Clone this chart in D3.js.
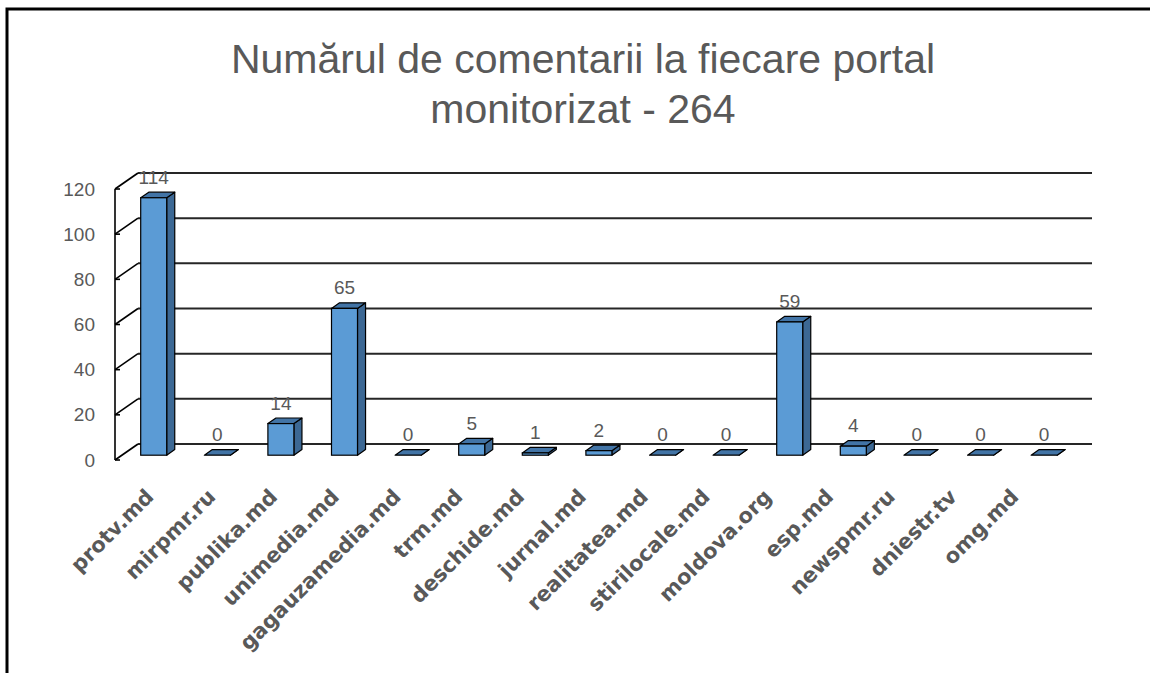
<!DOCTYPE html>
<html>
<head>
<meta charset="utf-8">
<script src="https://cdn.jsdelivr.net/npm/d3@7"></script>
<style>
  body { margin: 0; background: #fff; }
  svg { display: block; }
</style>
</head>
<body>
<svg id="chart"></svg>
<script>
const portals = ['protv.md', 'mirpmr.ru', 'publika.md', 'unimedia.md', 'gagauzamedia.md', 'trm.md', 'deschide.md',
  'jurnal.md', 'realitatea.md', 'stirilocale.md', 'moldova.org', 'esp.md', 'newspmr.ru', 'dniestr.tv', 'omg.md'];
const comments = [114, 0, 14, 65, 0, 5, 1, 2, 0, 0, 59, 4, 0, 0, 0];
const yTicks = [0, 20, 40, 60, 80, 100, 120];
const titleLines = ['Numărul de comentarii la fiecare portal', 'monitorizat - 264'];

const width = 1150, height = 673;
const svg = d3.select('#chart').attr('width', width).attr('height', height);

// outer frame (runs off the right and bottom edge like the screenshot)
svg.append('rect').attr('x', 7).attr('y', 9).attr('width', 1200).attr('height', 720)
  .attr('fill', 'none').attr('stroke', '#000').attr('stroke-width', 3);

const x = d3.scaleBand().domain(portals).range([115, 1069]);
const y = d3.scaleLinear().domain([0, 120]).range([460, 189]);
const labelX = d3.scalePoint().domain(portals).range([155, 1020]);

// 3d offsets: full floor depth, bar placement inside it
const depthX = 23, depthY = -16;
const barFront = 0.3, barDepth = 0.35;
const barW = 26;

// title
svg.selectAll('.title').data(titleLines).enter().append('text').attr('class', 'title')
  .attr('x', 583).attr('y', (d, i) => 73 + i * 50)
  .attr('text-anchor', 'middle').attr('fill', '#595959')
  .style('font', '41px "Liberation Sans", Arial, sans-serif')
  .text(d => d);

// back wall gridlines + diagonal ticks
const grid = svg.append('g');
grid.selectAll('.grid').data(yTicks).enter().append('line')
  .attr('x1', x.range()[0] + depthX).attr('x2', x.range()[1] + depthX)
  .attr('y1', d => y(d) + depthY).attr('y2', d => y(d) + depthY)
  .attr('stroke', '#262626').attr('stroke-width', 2);
grid.selectAll('.diag').data(yTicks).enter().append('line')
  .attr('x1', x.range()[0]).attr('x2', x.range()[0] + depthX)
  .attr('y1', d => y(d)).attr('y2', d => y(d) + depthY)
  .attr('stroke', '#000').attr('stroke-width', 1.6);
grid.selectAll('.stub').data(yTicks).enter().append('line')
  .attr('x1', x.range()[0]).attr('x2', x.range()[0] + 5)
  .attr('y1', d => y(d)).attr('y2', d => y(d))
  .attr('stroke', '#000').attr('stroke-width', 1.6);
grid.append('line')
  .attr('x1', x.range()[0]).attr('x2', x.range()[0])
  .attr('y1', y(0)).attr('y2', y(120))
  .attr('stroke', '#000').attr('stroke-width', 1.6);

// y tick labels
svg.selectAll('.ytick').data(yTicks).enter().append('text')
  .attr('x', 95).attr('y', d => y(d)).attr('dy', '0.35em')
  .attr('text-anchor', 'end').attr('fill', '#595959')
  .style('font', '19px "Liberation Sans", Arial, sans-serif')
  .text(d => d);

// bars
const ox = barFront * depthX, oy = barFront * depthY;
const dx = barDepth * depthX, dy = barDepth * depthY;
const bars = svg.selectAll('.bar').data(portals.map((p, i) => ({ portal: p, value: comments[i] })))
  .enter().append('g').attr('class', 'bar');

function geom(d) {
  const x0 = x(d.portal) + x.bandwidth() / 2 - barW / 2 + ox;
  const yb = y(0) + oy;
  const yt = y(d.value) + oy;
  return { x0, x1: x0 + barW, yb, yt };
}
const pts = a => a.map(p => p.join(',')).join(' ');

bars.append('polygon')
  .attr('points', d => { const g = geom(d); return pts([[g.x1, g.yt], [g.x1, g.yb], [g.x1 + dx, g.yb + dy], [g.x1 + dx, g.yt + dy]]); })
  .attr('fill', '#3c6894').attr('stroke', '#000').attr('stroke-width', 1.2).attr('stroke-linejoin', 'round');
bars.append('polygon')
  .attr('points', d => { const g = geom(d); return pts([[g.x0, g.yt], [g.x1, g.yt], [g.x1 + dx, g.yt + dy], [g.x0 + dx, g.yt + dy]]); })
  .attr('fill', '#4274a6').attr('stroke', '#000').attr('stroke-width', 1.2).attr('stroke-linejoin', 'round');
bars.filter(d => d.value > 0).append('rect')
  .attr('x', d => geom(d).x0).attr('y', d => geom(d).yt)
  .attr('width', barW).attr('height', d => geom(d).yb - geom(d).yt)
  .attr('fill', '#5b9bd5').attr('stroke', '#000').attr('stroke-width', 1.2);

// value labels
bars.append('text')
  .attr('x', d => geom(d).x0 + barW / 2)
  .attr('y', d => geom(d).yt - 14)
  .attr('text-anchor', 'middle').attr('fill', '#595959')
  .style('font', '19px "Liberation Sans", Arial, sans-serif')
  .text(d => d.value);

// category labels
svg.selectAll('.xlabel').data(portals).enter().append('text')
  .attr('transform', d => `translate(${labelX(d)},498) rotate(-45)`)
  .attr('text-anchor', 'end').attr('fill', '#595959')
  .style('font', 'bold 21px "DejaVu Sans", Verdana, sans-serif')
  .text(d => d);
</script>
</body>
</html>
